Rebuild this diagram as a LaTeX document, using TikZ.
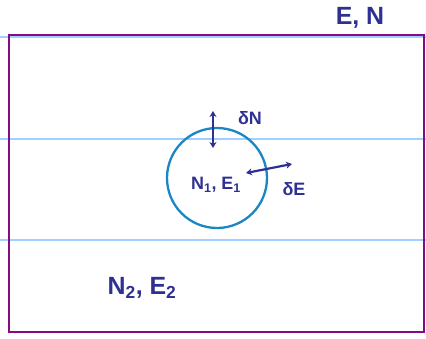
\documentclass[tikz,border=0pt]{standalone}
\usepackage{fontspec}
\setmainfont{Liberation Sans}
\usetikzlibrary{arrows.meta}
\definecolor{ink}{HTML}{2E3192}
\definecolor{boxline}{HTML}{850A85}
\definecolor{rule}{HTML}{9FD0FF}
\definecolor{bubble}{HTML}{1A87C4}
\begin{document}
\begin{tikzpicture}[x=1bp, y=-1bp,
  lbl/.style={text=ink, font=\fontsize{20}{20}\selectfont},
  shift arrow/.style={{Stealth[length=6bp,width=7bp]}-{Stealth[length=6bp,width=7bp]}, ink, line width=2.2bp}]
\useasboundingbox (0,0) rectangle (426,339);

% Ruled lines
\draw[rule, line width=2bp] (0,37) -- (426,37);
\draw[rule, line width=2bp] (0,139) -- (426,139);
\draw[rule, line width=2bp] (0,240) -- (426,240);

% Outer system
\draw[boxline, line width=2.5bp] (9,35) rectangle (424,332);
\node[lbl, font=\fontsize{25}{25}\selectfont\bfseries] (outer) at (360,18) {E, N};

% Subsystem
\node[circle, draw=bubble, line width=2.3bp, minimum size=100bp, inner sep=0pt] (sub) at (217,178) {};
\node[lbl, font=\fontsize{18}{18}\selectfont\bfseries] (inner) at (216,185) {N\textsubscript{1}, E\textsubscript{1}};
\node[lbl, font=\fontsize{25}{25}\selectfont\bfseries] (rest) at (142,288) {N\textsubscript{2}, E\textsubscript{2}};

% Exchanges
\coordinate (nTop) at (213,111);
\coordinate (nBot) at (213,148);
\coordinate (eIn) at (246,173);
\coordinate (eOut) at (292,164);
\draw[shift arrow] (nTop) -- (nBot);
\draw[shift arrow] (eIn) -- (eOut);
\node[lbl, font=\fontsize{18}{18}\selectfont\bfseries] (dN) at (250,118) {δN};
\node[lbl, font=\fontsize{18}{18}\selectfont\bfseries] (dE) at (294,189) {δE};

\end{tikzpicture}
\end{document}
